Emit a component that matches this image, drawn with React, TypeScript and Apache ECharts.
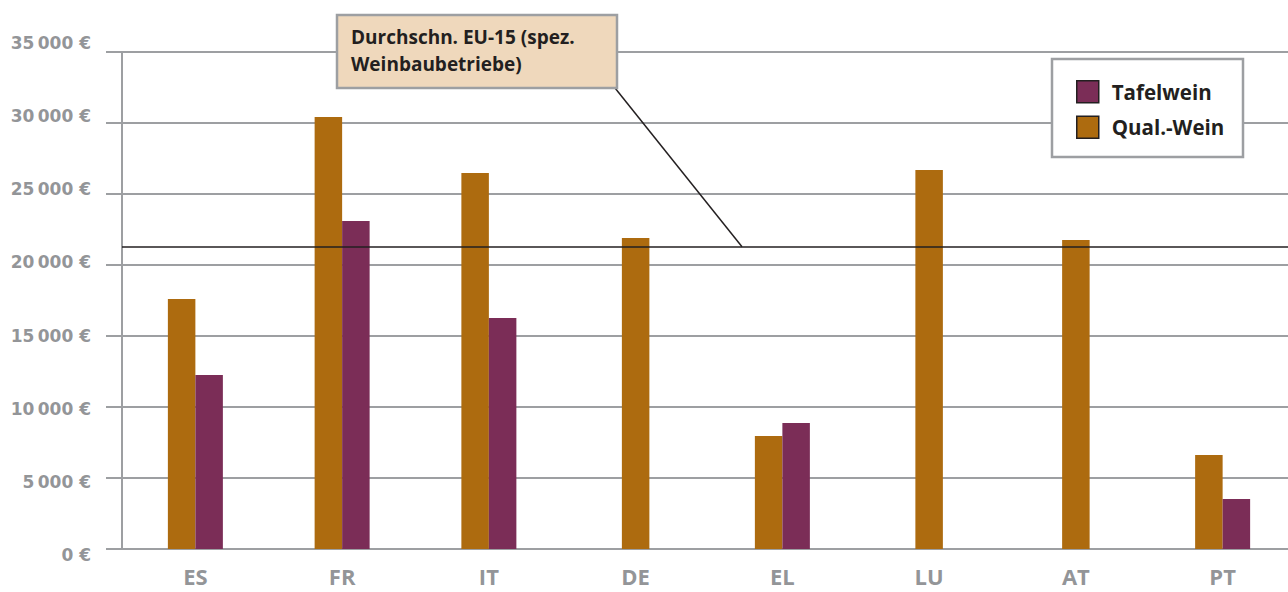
import React, { useEffect, useRef } from 'react';
import * as echarts from 'echarts';

const categories = ['ES', 'FR', 'IT', 'DE', 'EL', 'LU', 'AT', 'PT'];
const qualWein: number[] = [17600, 30420, 26480, 21900, 7960, 26690, 21760, 6620];
const tafelWein: (number | null)[] = [12250, 23100, 16270, null, 8870, null, null, 3520];
const euAverage = 21290;
const yTickValues = [0, 5000, 10000, 15000, 20000, 25000, 30000, 35000];
const annotationLines = ['Durchschn. EU-15 (spez.', 'Weinbaubetriebe)'];
const seriesNames = ['Tafelwein', 'Qual.-Wein'];

const GRAY = '#9d9fa2';
const LABEL_GRAY = '#939598';
const DARK = '#231f20';
const ORANGE = '#ad6b0f';
const PURPLE = '#7b2d57';
const FONT = '"Open Sans", "Noto Sans", sans-serif';
const TICK_FONT = '"DejaVu Sans", "Open Sans", sans-serif';

function fmt(v: number): string {
  const s = String(v).replace(/\B(?=(\d{3})+(?!\d))/g, '\u2009');
  return s + ' €';
}

export default function App() {
  const ref = useRef<HTMLDivElement>(null);
  useEffect(() => {
    if (!ref.current) return;
    const chart = echarts.init(ref.current, undefined, { renderer: 'svg' });
    const paired = categories.map((_, i) => tafelWein[i] != null);
    const qualPaired = qualWein.map((v, i) => (paired[i] ? v : null));
    const qualSingle = qualWein.map((v, i) => (paired[i] ? null : v));
    const yMax = yTickValues[yTickValues.length - 1];
    const yInterval = yTickValues[1] - yTickValues[0];

    chart.setOption({
      animation: false,
      textStyle: { fontFamily: FONT },
      grid: [
        { left: 122, top: 52, width: 1174, height: 497 },
        { left: 122, top: 43, width: 10, height: 512 },
      ],
      xAxis: [
        {
          type: 'category',
          data: categories,
          gridIndex: 0,
          axisLine: { lineStyle: { color: GRAY, width: 2 } },
          axisTick: { length: 13, lineStyle: { color: GRAY, width: 2 } },
          axisLabel: {
            color: LABEL_GRAY,
            fontSize: 22,
            lineHeight: 22,
            fontWeight: 'bold',
            margin: 16,
            fontFamily: FONT,
          },
        },
        { type: 'category', data: categories, gridIndex: 0, show: false },
        { type: 'category', data: categories, gridIndex: 1, show: false },
      ],
      yAxis: [
        {
          type: 'value',
          gridIndex: 0,
          min: 0,
          max: yMax,
          interval: yInterval,
          axisLine: { show: true, lineStyle: { color: GRAY, width: 2 } },
          axisTick: { show: true, length: 16, lineStyle: { color: GRAY, width: 2 } },
          axisLabel: { show: false },
          splitLine: { show: true, lineStyle: { color: GRAY, width: 2 } },
        },
        {
          type: 'value',
          gridIndex: 1,
          min: 0,
          max: yMax,
          interval: yInterval,
          axisLine: { show: false },
          axisTick: { show: false },
          splitLine: { show: false },
          axisLabel: {
            margin: 31,
            color: LABEL_GRAY,
            fontSize: 17,
            fontWeight: 'bold',
            fontFamily: TICK_FONT,
            formatter: (v: number) => fmt(v),
          },
        },
      ],
      legend: {
        data: seriesNames,
        orient: 'vertical',
        left: 1076,
        top: 80,
        padding: 0,
        z: 20,
        itemGap: 12,
        itemWidth: 22,
        itemHeight: 22,
        icon: 'rect',
        itemStyle: { borderColor: DARK, borderWidth: 1.5 },
        textStyle: {
          color: DARK,
          fontSize: 20.5,
          fontWeight: 'bold',
          fontFamily: FONT,
          padding: [0, 0, 0, 8],
        },
      },
      series: [
        {
          name: seriesNames[1],
          type: 'bar',
          xAxisIndex: 0,
          yAxisIndex: 0,
          data: qualPaired,
          barWidth: 27.5,
          barGap: '0%',
          itemStyle: { color: ORANGE },
          markLine: {
            silent: true,
            symbol: 'none',
            label: { show: false },
            lineStyle: { color: DARK, width: 1.5, type: 'solid' },
            data: [{ yAxis: euAverage }],
            z: 10,
          },
        },
        {
          name: seriesNames[0],
          type: 'bar',
          xAxisIndex: 0,
          yAxisIndex: 0,
          data: tafelWein,
          barWidth: 27.5,
          barGap: '0%',
          itemStyle: { color: PURPLE },
        },
        {
          name: seriesNames[1],
          type: 'bar',
          xAxisIndex: 1,
          yAxisIndex: 0,
          data: qualSingle,
          barWidth: 27.5,
          itemStyle: { color: ORANGE },
        },
      ],
    });

    const refY = chart.convertToPixel({ yAxisIndex: 0 }, euAverage) as number;
    chart.setOption({
      graphic: [
        {
          type: 'rect',
          z: 5,
          shape: { x: 1052, y: 59, width: 191, height: 98 },
          style: { fill: '#ffffff', stroke: GRAY, lineWidth: 2.5 },
        },
        {
          type: 'line',
          z: 50,
          shape: { x1: 615, y1: 88, x2: 742, y2: refY },
          style: { stroke: DARK, lineWidth: 1.5 },
        },
        {
          type: 'rect',
          z: 60,
          shape: { x: 337, y: 15, width: 280, height: 73 },
          style: { fill: '#efd8bc', stroke: GRAY, lineWidth: 2.5 },
        },
        {
          type: 'text',
          z: 70,
          x: 351,
          y: 23,
          style: {
            text: annotationLines.join('\n'),
            fill: DARK,
            font: `bold 19px ${FONT}`,
            lineHeight: 27,
          },
        },
      ],
    });

    return () => chart.dispose();
  }, []);

  return (
    <div
      style={{
        position: 'fixed',
        left: 0,
        top: 0,
        width: 1288,
        height: 592,
        overflow: 'hidden',
        background: '#fff',
      }}
    >
      <div ref={ref} style={{ width: 1310, height: 592 }} />
    </div>
  );
}
